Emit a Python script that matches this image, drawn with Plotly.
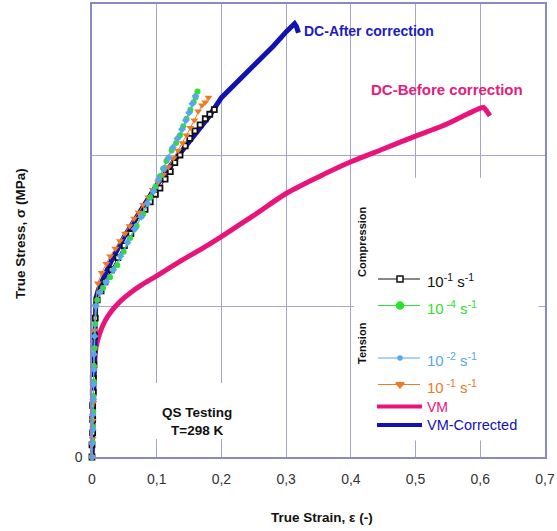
import plotly.graph_objects as go

# ---------------- data ----------------
x_ticks = [0, 0.1, 0.2, 0.3, 0.4, 0.5, 0.6, 0.7]
x_tick_labels = ["0", "0,1", "0,2", "0,3", "0,4", "0,5", "0,6", "0,7"]
y_grid = [0, 100, 200, 300]
y_tick_labels = ["0", " ", " ", " "]

# VM (DC - before correction)
vm_x = [0, 0.002, 0.004, 0.006, 0.012, 0.02, 0.03, 0.04, 0.05, 0.06, 0.075, 0.1, 0.14, 0.17, 0.2,
        0.25, 0.3, 0.35, 0.4, 0.45, 0.5, 0.54, 0.57, 0.6, 0.605, 0.61, 0.615]
vm_y = [0, 30, 60, 72, 82, 90, 96.5, 101.5, 105.5, 109, 113.5, 120, 130.5, 138, 146,
        160, 174.5, 185.5, 195.5, 204, 212.5, 219, 225, 231, 231.5, 229, 226]

# VM-Corrected (DC - after correction)
vmc_x = [0, 0.001, 0.002, 0.003, 0.004, 0.006, 0.010, 0.020, 0.030, 0.050, 0.075, 0.100, 0.125,
         0.146, 0.167, 0.180, 0.200, 0.229, 0.255, 0.280, 0.301, 0.309, 0.313, 0.316, 0.319]
vmc_y = [0, 25, 50, 75, 95, 105, 111, 121, 130, 146, 163, 180, 195,
         206, 217, 225, 238, 250, 261, 272, 282, 286, 287, 285, 281]

# Compression 10^-1 s^-1 (black)
comp1_x = [0.000, 0.000, 0.001, 0.001, 0.001, 0.002, 0.002, 0.003, 0.003, 0.004, 0.005, 0.008,
           0.014, 0.020, 0.030, 0.040, 0.050, 0.060, 0.074, 0.082, 0.090, 0.098, 0.105, 0.113,
           0.121, 0.128, 0.136, 0.144, 0.151, 0.159, 0.167, 0.175, 0.182, 0.189]
comp1_y = [0, 8, 16, 25, 34, 43, 52, 61, 70, 80, 92, 104,
           110, 116, 124, 132, 140, 148, 160, 164, 169, 174, 178, 184,
           189, 195, 200, 206, 211, 216, 220, 224, 227, 230]

# 10^-4 s^-1 (green)
comp4_x = [0, 0.001, 0.001, 0.002, 0.002, 0.003, 0.003, 0.004, 0.005, 0.008, 0.017, 0.028,
           0.039, 0.049, 0.059, 0.069, 0.079, 0.090, 0.098, 0.105, 0.110, 0.115, 0.123, 0.130,
           0.136, 0.141, 0.146, 0.152, 0.157, 0.160, 0.163]
comp4_y = [0, 10, 20, 30, 40, 50, 60, 72, 88, 104, 112, 119,
           127, 136, 145, 153, 161, 172, 179, 186, 191, 196, 203, 208,
           213, 219, 224, 230, 235, 238, 242]

# Tension 10^-2 s^-1 (light blue)
ten2_x = [0, 0, 0.001, 0.001, 0.002, 0.002, 0.003, 0.003, 0.004, 0.006, 0.012, 0.022, 0.033,
          0.044, 0.055, 0.066, 0.076, 0.086, 0.095, 0.103, 0.111, 0.118, 0.125, 0.132, 0.139,
          0.145, 0.150, 0.155, 0.160]
ten2_y = [0, 9, 18, 28, 38, 48, 58, 68, 80, 100, 109, 116, 124,
          133, 142, 151, 159, 168, 176, 184, 191, 198, 205, 211, 217,
          223, 228, 234, 239]

# Tension 10^-1 s^-1 (orange)
ten1_x = [0, 0.001, 0.001, 0.002, 0.002, 0.003, 0.003, 0.004, 0.005, 0.009, 0.015, 0.022,
          0.028, 0.036, 0.043, 0.051, 0.058, 0.065, 0.072, 0.079, 0.087, 0.094, 0.102, 0.110,
          0.118, 0.126, 0.133, 0.140, 0.146, 0.152, 0.158, 0.164, 0.170, 0.175, 0.180]
ten1_y = [0, 12, 24, 36, 48, 60, 72, 84, 100, 115, 122, 128,
          133, 138, 143, 148, 153, 158, 162, 167, 172, 177, 182, 187,
          192, 198, 203, 208, 213, 218, 223, 229, 233, 235, 238]

legend_labels = ["10<sup>-1</sup> s<sup>-1</sup>", "10<sup> -4</sup> s<sup>-1</sup>",
                 "10<sup> -2</sup> s<sup>-1</sup>", "10<sup> -1</sup> s<sup>-1</sup>",
                 "VM", "VM-Corrected"]

# ---------------- styling / layout constants ----------------
W, H = 557, 531
L, R, T, B = 92, 545, 4, 457          # plot area in figure pixels
FONT = "Arial, Liberation Sans, sans-serif"
GRID = "#a4a4cc"
FRAME = "#8a8ac0"
C_BLACK = "#111111"
C_GREEN = "#2fe02f"
C_LBLUE = "#55a8ec"
C_ORANGE = "#ee7a26"
C_PINK = "#e8147c"
C_BLUE = "#1212b4"


def px(xp):
    return (xp - L) / (R - L)


def py(yp):
    return (B - yp) / (B - T)


fig = go.Figure()

# main curves
fig.add_trace(go.Scatter(x=vm_x, y=vm_y, mode="lines",
                         line=dict(color=C_PINK, width=5, shape="spline", smoothing=0.8),
                         showlegend=False))
fig.add_trace(go.Scatter(x=vmc_x, y=vmc_y, mode="lines",
                         line=dict(color=C_BLUE, width=5), showlegend=False))
fig.add_trace(go.Scatter(x=comp1_x, y=comp1_y, mode="lines+markers", cliponaxis=False,
                         line=dict(color=C_BLACK, width=1),
                         marker=dict(symbol="square", size=5, color="white",
                                     line=dict(color=C_BLACK, width=1.8)),
                         showlegend=False))
fig.add_trace(go.Scatter(x=ten1_x, y=ten1_y, mode="lines+markers", cliponaxis=False,
                         line=dict(color=C_ORANGE, width=1),
                         marker=dict(symbol="triangle-down", size=7, color=C_ORANGE),
                         showlegend=False))
fig.add_trace(go.Scatter(x=comp4_x, y=comp4_y, mode="lines+markers", cliponaxis=False,
                         line=dict(color=C_GREEN, width=1),
                         marker=dict(symbol="circle", size=6, color=C_GREEN),
                         showlegend=False))
fig.add_trace(go.Scatter(x=ten2_x, y=ten2_y, mode="lines+markers", cliponaxis=False,
                         line=dict(color=C_LBLUE, width=1),
                         marker=dict(symbol="diamond", size=6, color=C_LBLUE),
                         showlegend=False))

# ---------------- hand-made legend (overlay axes in figure pixels) ----------------
leg_rows = [
    dict(y=279, color=C_BLACK, symbol="square", mcolor="white", mline=C_BLACK, size=6, w=1),
    dict(y=305.5, color=C_GREEN, symbol="circle", mcolor=C_GREEN, mline=C_GREEN, size=7, w=1),
    dict(y=358, color=C_LBLUE, symbol="circle", mcolor=C_LBLUE, mline=C_LBLUE, size=4, w=1),
    dict(y=384.5, color=C_ORANGE, symbol="triangle-down", mcolor=C_ORANGE, mline=C_ORANGE, size=7, w=1),
]
for r in leg_rows:
    fig.add_trace(go.Scatter(x=[378, 420], y=[r["y"], r["y"]], mode="lines", xaxis="x2", yaxis="y2",
                             line=dict(color=r["color"], width=r["w"]), showlegend=False,
                             hoverinfo="skip"))
    fig.add_trace(go.Scatter(x=[400], y=[r["y"]], mode="markers", xaxis="x2", yaxis="y2",
                             marker=dict(symbol=r["symbol"], size=r["size"], color=r["mcolor"],
                                         line=dict(color=r["mline"], width=1.5)),
                             showlegend=False, hoverinfo="skip"))
for yy, col in [(406.5, C_PINK), (425, C_BLUE)]:
    fig.add_trace(go.Scatter(x=[377, 422], y=[yy, yy], mode="lines", xaxis="x2", yaxis="y2",
                             line=dict(color=col, width=4), showlegend=False, hoverinfo="skip"))

annotations = []
leg_text = [(legend_labels[0], 280, C_BLACK, 15), (legend_labels[1], 307, C_GREEN, 15),
            (legend_labels[2], 359, C_LBLUE, 15), (legend_labels[3], 386, C_ORANGE, 15),
            (legend_labels[4], 406.5, C_PINK, 14), (legend_labels[5], 425, C_BLUE, 14.5)]
for txt, yy, col, fs in leg_text:
    annotations.append(dict(x=px(425), y=py(yy), xref="paper", yref="paper", text=txt,
                            showarrow=False, xanchor="left", yanchor="middle",
                            font=dict(family=FONT, size=fs, color=col)))


def ann(x, y, text, size, color, xanchor="center", angle=0):
    return dict(x=px(x), y=py(y), xref="paper", yref="paper", text=text, textangle=angle,
                showarrow=False, xanchor=xanchor, yanchor="middle",
                font=dict(family=FONT, size=size, color=color))


annotations += [
    ann(362, 242, "<b>Compression</b>", 11, "#111", angle=-90),
    ann(362, 343, "<b>Tension</b>", 11, "#111", angle=-90),
    ann(302, 31, "<b>DC-After correction</b>", 14, "#1c1cc0", xanchor="left"),
    ann(369, 90, "<b>DC-Before correction</b>", 15, "#e0207e", xanchor="left"),
    ann(197, 412, "<b>QS Testing</b>", 13.5, "#111"),
    ann(197, 430, "<b>T=298 K</b>", 13.5, "#111"),
    ann(21, 234, "<b>True Stress, σ (MPa)</b>", 13.5, "#111", angle=-90),
    ann(322, 517, "<b>True Strain, ε (-)</b>", 13.5, "#111"),
]

# white boxes hiding the grid behind the legend and the QS label
shapes = [
    dict(type="rect", xref="x", yref="y", x0=0.405, x1=0.690, y0=11, y1=185,
         fillcolor="white", line=dict(width=0), layer="between"),
    dict(type="rect", xref="x", yref="y", x0=0.056, x1=0.264, y0=12, y1=49,
         fillcolor="white", line=dict(width=0), layer="between"),
]

fig.update_layout(
    width=W, height=H,
    margin=dict(l=L, r=W - R, t=T, b=H - B, autoexpand=False),
    paper_bgcolor="white", plot_bgcolor="white",
    showlegend=False,
    annotations=annotations,
    shapes=shapes,
    xaxis=dict(range=[0, 0.7], tickvals=x_ticks, ticktext=x_tick_labels,
               showgrid=True, gridcolor=GRID, gridwidth=1.3,
               showline=True, linecolor=FRAME, linewidth=1.5, mirror=True,
               zeroline=False, ticks="", ticklabelstandoff=8,
               tickfont=dict(family=FONT, size=14, color="#333")),
    yaxis=dict(range=[0, 300], tickvals=y_grid, ticktext=y_tick_labels,
               showgrid=True, gridcolor=GRID, gridwidth=1.3,
               showline=True, linecolor=FRAME, linewidth=1.5, mirror=True,
               zeroline=False, ticks="", ticklabelstandoff=5,
               tickfont=dict(family=FONT, size=14, color="#333")),
    xaxis2=dict(range=[L, R], overlaying="x", anchor="y2", visible=False, fixedrange=True),
    yaxis2=dict(range=[B, T], overlaying="y", anchor="x2", visible=False, fixedrange=True),
)

fig.write_html("out.html", config={"displayModeBar": False},
               post_script="document.body.style.margin='0';document.body.style.overflow='hidden';")
